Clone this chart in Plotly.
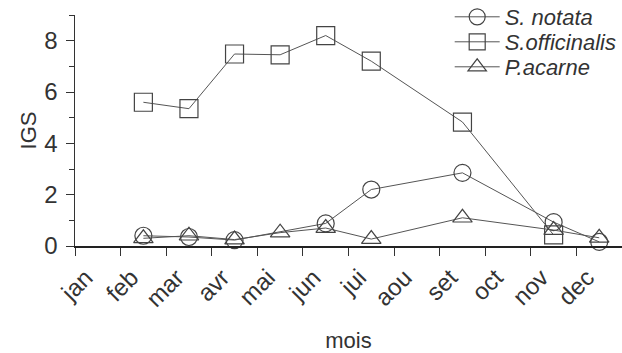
import plotly.graph_objects as go

months = ["jan", "feb", "mar", "avr", "mai", "jun", "jui", "aou", "set", "oct", "nov", "dec"]
notata = [None, 0.40, 0.35, 0.23, None, 0.88, 2.20, None, 2.85, None, 0.93, 0.16]
officinalis = [None, 5.60, 5.35, 7.48, 7.45, 8.20, 7.20, None, 4.83, None, 0.43, None]
acarne = [None, 0.30, 0.40, 0.25, 0.52, 0.70, 0.27, None, 1.10, None, 0.62, 0.32]
y_ticks = [0, 2, 4, 6, 8]

FONT = "Liberation Sans, Arial, sans-serif"
LINE = "#555555"
MK = "#444444"
TXT = "#333333"

H, T, B = 353, 15, 107
PH = H - T - B

fig = go.Figure()
series = [
    ("S. notata", notata, "circle-open", "legend", 17, 17),
    ("S.officinalis", officinalis, "square-open", "legend2", 42, 18),
    ("P.acarne", acarne, "triangle-up-open", "legend3", 67, 17),
]
legends = {}
for name, vals, sym, lg, yc, sz in series:
    fig.add_trace(go.Scatter(
        x=months, y=vals, name=name, mode="lines+markers",
        connectgaps=True, cliponaxis=False, legend=lg,
        line=dict(color=LINE, width=1),
        marker=dict(symbol=sym, size=sz, color=MK, line=dict(color=MK, width=1.2)),
    ))
    legends[lg] = dict(
        x=0.685, y=1 + (T - yc) / PH, xanchor="left", yanchor="middle",
        bgcolor="rgba(0,0,0,0)", borderwidth=0,
        font=dict(family=FONT, size=22, color=TXT, style="italic"),
        itemwidth=45,
    )

fig.update_layout(
    width=622, height=H,
    margin=dict(l=75, r=0, t=T, b=B, autoexpand=False),
    paper_bgcolor="white", plot_bgcolor="white",
    font=dict(family=FONT, size=22, color=TXT),
    showlegend=True,
    xaxis=dict(
        type="category", categoryorder="array", categoryarray=months,
        range=[-0.5, 11.5], tickson="boundaries", automargin=False,
        ticks="outside", ticklen=8, tickwidth=1, tickcolor=TXT,
        tickangle=-45, ticklabelstandoff=6, ticklabelshift=-12,
        tickfont=dict(size=24),
        showline=True, linecolor="#222222", linewidth=2,
        showgrid=False, zeroline=False,
        title=dict(text="mois", standoff=23, font=dict(size=22)),
    ),
    yaxis=dict(
        range=[0, 9], tickvals=y_ticks, ticktext=[str(v) for v in y_ticks],
        automargin=False,
        ticks="outside", ticklen=8, tickwidth=1, tickcolor=TXT,
        minor=dict(dtick=1, tick0=1, ticks="outside", ticklen=5, tickwidth=1, tickcolor=TXT, showgrid=False),
        ticklabelstandoff=3, tickfont=dict(size=24),
        showline=True, linecolor=TXT, linewidth=1.5,
        showgrid=False, zeroline=False,
        title=dict(text="IGS", standoff=1, font=dict(size=22)),
    ),
    **legends,
)

fig.write_html(
    "out.html",
    config={"displayModeBar": False, "staticPlot": True},
    post_script="document.body.style.margin='0';document.body.style.overflow='hidden';",
)
